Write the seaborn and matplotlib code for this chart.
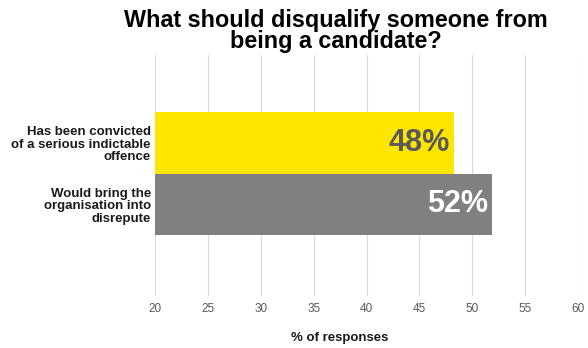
import matplotlib
matplotlib.use("Agg")
import matplotlib.pyplot as plt
import pandas as pd
import seaborn as sns

categories = [
    "Has been convicted\nof a serious indictable\noffence",
    "Would bring the\norganisation into\ndisrepute",
]
values = [48.3, 51.9]
bar_colors = ["#FFE600", "#808080"]
label_colors = ["#595959", "#FFFFFF"]
xticks = [20, 25, 30, 35, 40, 45, 50, 55, 60]

sns.set_theme(style="white")
plt.rcParams["font.family"] = ["Liberation Sans", "DejaVu Sans"]

df = pd.DataFrame({"reason": categories, "pct": values})

fig = plt.figure(figsize=(5.88, 3.48), dpi=100)
ax = fig.add_axes([0.2636, 0.1494, 0.7194, 0.6926])

sns.barplot(
    data=df, y="reason", x="pct", hue="reason", palette=bar_colors,
    orient="h", width=1.0, legend=False, ax=ax, saturation=1,
    linewidth=0,
)
# bars start at 20 on this axis
for patch in ax.patches:
    w = patch.get_width()
    patch.set_x(20)
    patch.set_width(w - 20)

ax.set_xlim(20, 60)
ax.set_ylim(2.49, -1.43)
ax.set_xticks(xticks)
ax.grid(axis="x", color="#d9d9d9", linewidth=0.8)
ax.set_axisbelow(True)
for s in ax.spines.values():
    s.set_visible(False)
ax.tick_params(axis="x", length=0, pad=5, labelsize=8.5, labelcolor="#595959")
ax.tick_params(axis="y", length=0, pad=3)
for lbl in ax.get_yticklabels():
    lbl.set_fontweight("bold")
    lbl.set_fontsize(9.5)
    lbl.set_color("#1a1a1a")
    lbl.set_horizontalalignment("right")
    lbl.set_linespacing(1.07)
ax.set_ylabel("")
ax.set_xlabel("")

for i, v in enumerate(values):
    ax.text(v - 0.4, i, f"{round(v)}%", ha="right", va="center",
            fontsize=22, fontweight="bold", color=label_colors[i])

fig.text(0.571, 0.91, "What should disqualify someone from\nbeing a candidate?",
         ha="center", va="center", fontsize=16.8, fontweight="bold",
         color="black", linespacing=0.9)
fig.text(0.577, 0.029, "% of responses", ha="center", va="center",
         fontsize=9.5, fontweight="bold", color="#1a1a1a")

fig.savefig("out.png", dpi=100)
